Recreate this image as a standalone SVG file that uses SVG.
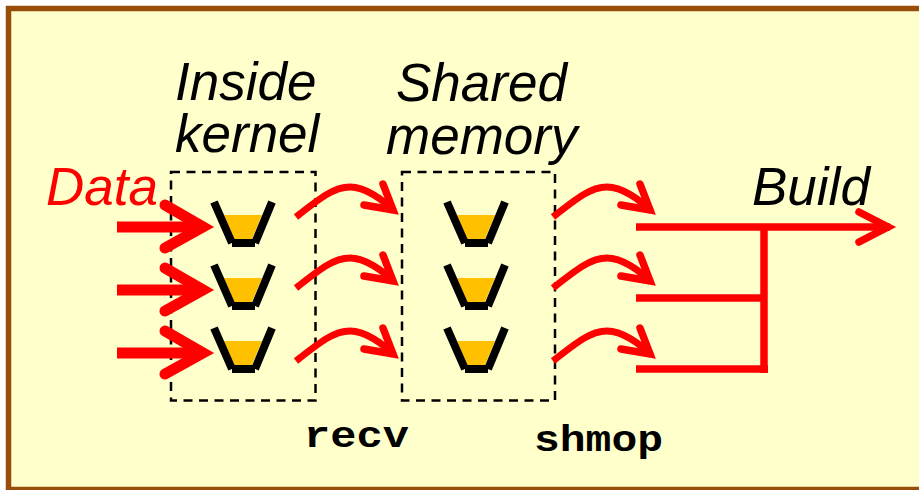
<svg xmlns="http://www.w3.org/2000/svg" width="919" height="490" viewBox="0 0 919 490">
<style>
.t{font-family:"Liberation Sans",Arial,sans-serif;font-style:italic;font-size:53px;fill:#000}
.m{font-family:"Liberation Mono","Courier New",monospace;font-weight:bold;font-size:36px;fill:#000}
.box{fill:none;stroke:#000;stroke-width:2.5;stroke-dasharray:9 6.5}
.wall{fill:none;stroke:#000;stroke-width:8}
.liq{fill:#ffc000}
.r{fill:none;stroke:#f00}
.str{stroke-width:11}
.strh{stroke-width:11;stroke-linecap:round}
.cur{stroke-width:7}
.curh{stroke-width:7.500;stroke-linecap:round}
.bus{stroke-width:7.5}
</style>
<defs>
<g id="bucket">
<path class="liq" d="M224 215H262L251 241H235Z"/>
<path class="wall" d="M214 202L232 243M232 243H255M255 243L272 202"/>
</g>
<g id="curve">
<path class="r cur" d="M296 217C320 198 334 187 350 187C365 187 382 199 394 211"/>
<path class="r curh" d="M383 184L393 210L364 205"/>
</g>
<g id="straight">
<path class="r str" d="M117 227H200"/>
<path class="r strh" d="M165 205L203 227L165 248"/>
</g>
</defs>
<rect id="frame" x="8.500" y="8.500" width="920" height="481" fill="#ffffcc" stroke="#994d0a" stroke-width="5.500"/>
<g id="label-inside"><text class="t" x="175" y="100">Inside</text><text class="t" x="175" y="152">kernel</text></g>
<g id="label-shared"><text class="t" x="396" y="101">Shared</text><text class="t" x="386" y="154">memory</text></g>
<g id="label-data"><text class="t" x="46" y="205" style="fill:#f00">Data</text></g>
<g id="label-build"><text class="t" x="752" y="205">Build</text></g>
<g id="label-recv"><text class="m" x="304" y="447" textLength="105" lengthAdjust="spacingAndGlyphs">recv</text></g>
<g id="label-shmop"><text class="m" x="534" y="451" textLength="129" lengthAdjust="spacingAndGlyphs">shmop</text></g>
<g id="kernel">
<rect class="box" x="171" y="172" width="144.500" height="228.500"/>
<use href="#bucket"/><use href="#bucket" y="63"/><use href="#bucket" y="126"/>
</g>
<g id="shared">
<rect class="box" x="402" y="172" width="153" height="228.500"/>
<use href="#bucket" x="233"/><use href="#bucket" x="233" y="63"/><use href="#bucket" x="233" y="126"/>
</g>
<g id="connectors">
<use href="#straight"/><use href="#straight" y="63"/><use href="#straight" y="126"/>
<use href="#curve"/><use href="#curve" y="71"/><use href="#curve" y="144"/>
<use href="#curve" x="257"/><use href="#curve" x="257" y="71"/><use href="#curve" x="257" y="144"/>
<path class="r bus" d="M636 227H890"/>
<path class="r bus" d="M636 298H764M636 369H768M764 227V373"/>
<path class="r curh" d="M859 212L888 227L859 242"/>
</g>
</svg>
